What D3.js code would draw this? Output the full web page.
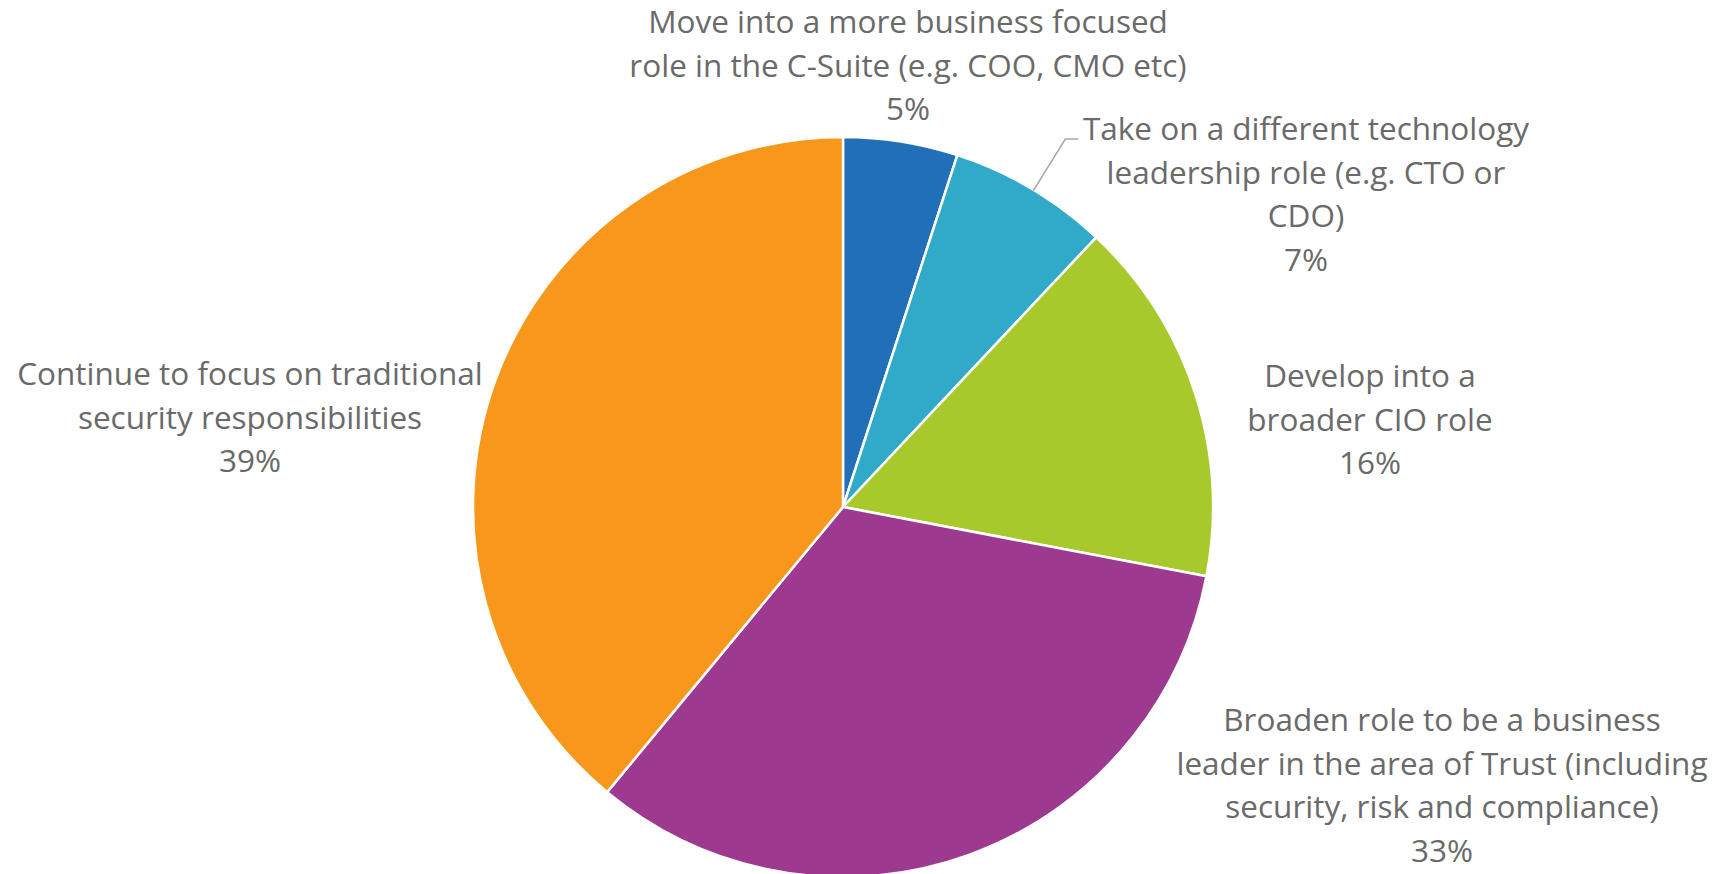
<!DOCTYPE html>
<html>
<head>
<meta charset="utf-8">
<script src="https://cdn.jsdelivr.net/npm/d3@7"></script>
<style>
  html, body { margin: 0; padding: 0; background: #fff; }
  svg { display: block; }
</style>
</head>
<body>
<svg id="chart" width="1718" height="874"></svg>
<script>
// Future direction of the security leader's role (share of respondents, %)
const categories = [
  "Move into a more business focused|role in the C-Suite (e.g. COO, CMO etc)",
  "Take on a different technology|leadership role (e.g. CTO or|CDO)",
  "Develop into a|broader CIO role",
  "Broaden role to be a business|leader in the area of Trust (including|security, risk and compliance)",
  "Continue to focus on traditional|security responsibilities"
];
const values = [5, 7, 16, 33, 39];
const colors = ["#2170b7", "#31a9c9", "#a8c92b", "#9d3a90", "#f7981d"];

// Label placement (centre x, first baseline y) for each slice
const labelLayout = [
  { x: 908, y: 33 },
  { x: 1306, y: 140 },
  { x: 1370, y: 387 },
  { x: 1442, y: 731 },
  { x: 250, y: 385 }
];

const svg = d3.select("#chart");
const cx = 843, cy = 507, radius = 370;
const lineHeight = 43.5;

const pie = d3.pie().sort(null).value(d => d);
const arc = d3.arc().innerRadius(0).outerRadius(radius);
const arcs = pie(values);

const g = svg.append("g").attr("transform", `translate(${cx},${cy})`);

g.selectAll("path.slice")
  .data(arcs)
  .join("path")
  .attr("class", "slice")
  .attr("d", arc)
  .attr("fill", (d, i) => colors[i])
  .attr("stroke", "#ffffff")
  .attr("stroke-width", 2.5)
  .attr("stroke-linejoin", "round");

// Leader line for the small teal slice
{
  const d = arcs[1];
  const mid = (d.startAngle + d.endAngle) / 2;
  const edge = [Math.sin(mid) * radius + cx, -Math.cos(mid) * radius + cy];
  const elbowY = labelLayout[1].y - 1;
  svg.append("path")
    .attr("d", d3.line()([
      [edge[0] + 2, edge[1] + 2],
      [edge[0] + 34, elbowY],
      [edge[0] + 47, elbowY]
    ]))
    .attr("fill", "none")
    .attr("stroke", "#a6a6a6")
    .attr("stroke-width", 1.5);
}

const labels = svg.selectAll("text.label")
  .data(arcs)
  .join("text")
  .attr("class", "label")
  .attr("text-anchor", "middle")
  .attr("font-family", "'Open Sans', sans-serif")
  .attr("font-size", 31.5)
  .attr("fill", "#6a6a6a")
  .attr("x", (d, i) => labelLayout[i].x)
  .attr("y", (d, i) => labelLayout[i].y);

labels.each(function (d, i) {
  const lines = categories[i].split("|").concat([d3.format(".0f")(d.data) + "%"]);
  d3.select(this).selectAll("tspan")
    .data(lines)
    .join("tspan")
    .attr("x", labelLayout[i].x)
    .attr("dy", (t, j) => j === 0 ? 0 : lineHeight)
    .text(t => t);
});
</script>
</body>
</html>
